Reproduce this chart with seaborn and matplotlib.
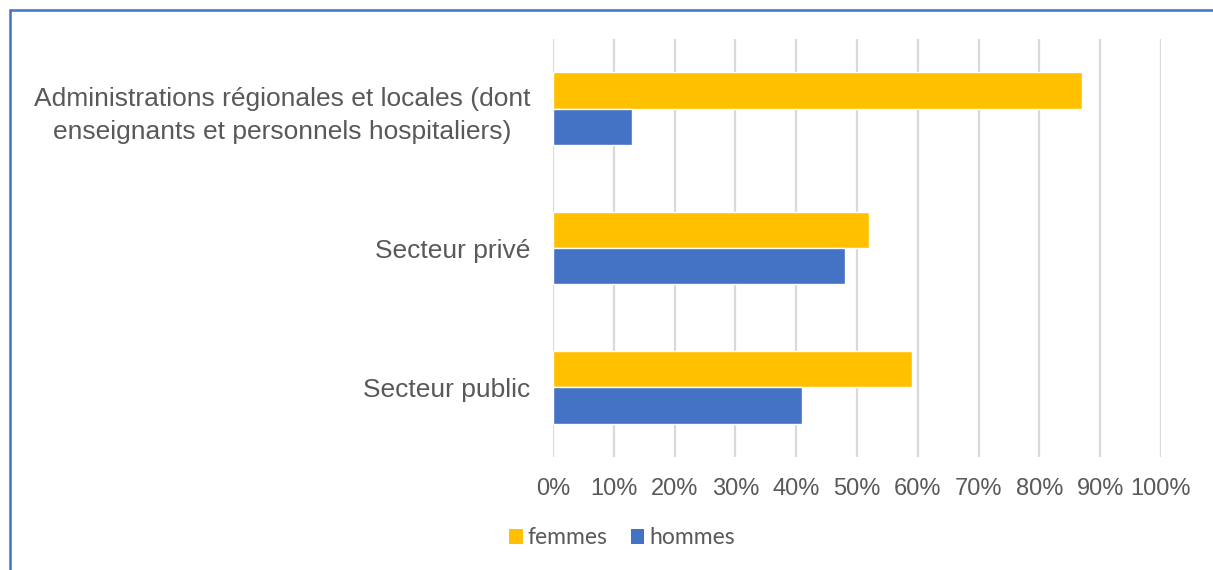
import matplotlib
matplotlib.use("Agg")
import matplotlib.pyplot as plt
import seaborn as sns
import pandas as pd
from matplotlib.lines import Line2D
from matplotlib.patches import Patch
from matplotlib.ticker import FuncFormatter, MultipleLocator

categories = ["Administrations régionales et locales (dont\nenseignants et personnels hospitaliers)",
              "Secteur privé", "Secteur public"]
series = ["femmes", "hommes"]
femmes = [87, 52, 59]
hommes = [13, 48, 41]
colors = ["#FFC000", "#4472C4"]

rows = []
for c, f, h in zip(categories, femmes, hommes):
    rows.append({"cat": c, "sexe": "femmes", "val": f})
    rows.append({"cat": c, "sexe": "hommes", "val": h})
df = pd.DataFrame(rows)

sns.set_theme(style="white")
plt.rcParams['font.family'] = ['Liberation Sans', 'DejaVu Sans']

fig = plt.figure(figsize=(12.13, 5.70), dpi=100)
ax = fig.add_axes([553/1213, 1-457/570, (1161-553)/1213, (457-39)/570])

sns.barplot(data=df, y="cat", x="val", hue="sexe", hue_order=series,
            order=categories, palette=colors, width=0.52, orient="h",
            saturation=1, ax=ax, legend=False, zorder=3)

ax.set_xlim(0, 100)
ax.set_ylim(2.5, -0.5)
ax.xaxis.set_major_locator(MultipleLocator(10))
ax.xaxis.set_major_formatter(FuncFormatter(lambda v, p: f"{v:.0f}%"))
ax.grid(axis="x", color="#D9D9D9", linewidth=1.6, zorder=0)
ax.grid(axis="y", visible=False)
for s in ax.spines.values():
    s.set_visible(False)
ax.set_xlabel("")
ax.set_ylabel("")
ax.tick_params(axis="x", length=0, pad=15)
ax.tick_params(axis="y", length=0, pad=16.5)
for t in ax.get_xticklabels():
    t.set_fontfamily("Liberation Sans")
    t.set_fontsize(17)
    t.set_color("#595959")
for t in ax.get_yticklabels():
    t.set_fontfamily("Liberation Sans")
    t.set_fontsize(19)
    t.set_color("#595959")
    t.set_multialignment("center")
    t.set_linespacing(1.45)

handles = [Patch(facecolor=colors[0], edgecolor="none"),
           Patch(facecolor=colors[1], edgecolor="none")]
leg = fig.legend(handles, series, loc="center", bbox_to_anchor=(622/1213, 1-538/570),
                 ncol=2, frameon=False, handlelength=0.6, handleheight=0.6,
                 handletextpad=0.2, columnspacing=1.0,
                 prop={"family": ["Lato", "DejaVu Sans"], "size": 16.5})
for t in leg.get_texts():
    t.set_color("#595959")

# outer frame (top and left visible)
fig.add_artist(Line2D([10/1213, 1], [1-10/570, 1-10/570], color="#4472C4", lw=1.8,
                      transform=fig.transFigure))
fig.add_artist(Line2D([10/1213, 10/1213], [0, 1-10/570], color="#4472C4", lw=1.8,
                      transform=fig.transFigure))

fig.savefig("out.png", dpi=100)
